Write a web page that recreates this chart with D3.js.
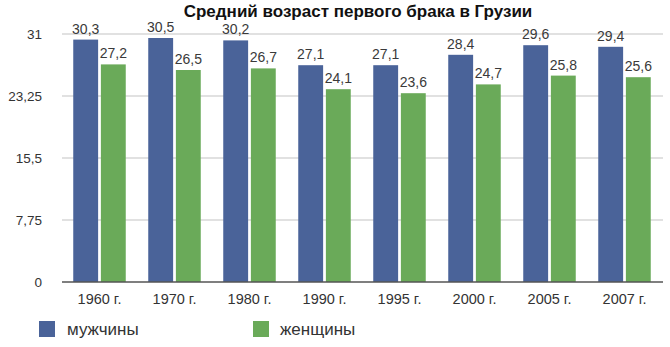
<!DOCTYPE html>
<html><head><meta charset="utf-8">
<script src="https://cdn.jsdelivr.net/npm/d3@7"></script>
<style>body{margin:0;background:#fff}svg{display:block}text{font-family:"Liberation Sans",Arial,sans-serif}</style>
</head><body>
<svg id="c" width="670" height="347"></svg>
<script>
const title = "Средний возраст первого брака в Грузии";
const categories = ["1960 г.","1970 г.","1980 г.","1990 г.","1995 г.","2000 г.","2005 г.","2007 г."];
const seriesNames = ["мужчины","женщины"];
const men = [30.3,30.5,30.2,27.1,27.1,28.4,29.6,29.4];
const women = [27.2,26.5,26.7,24.1,23.6,24.7,25.8,25.6];
const yTicks = [0,7.75,15.5,23.25,31];
const colors = ["#4a6399","#6aaa59"];

const svg = d3.select("#c");
const fmt = v => String(v).replace(".", ",");
const x = d3.scaleBand().domain(categories).range([62,662]).paddingInner(0.3).paddingOuter(0.15);
const xs = d3.scaleBand().domain(seriesNames).range([0, x.bandwidth()]).paddingInner(0.1);
const y = d3.scaleLinear().domain([0,31]).range([282,34]);

// gridlines
svg.append("g").selectAll("line").data(yTicks.filter(t=>t>0)).join("line")
  .attr("x1",62).attr("x2",663).attr("y1",d=>y(d)).attr("y2",d=>y(d))
  .attr("stroke","#c4c4c4").attr("stroke-width",1.2);

// y axis labels
const yAxis = d3.axisLeft(y).tickValues(yTicks).tickSize(0).tickPadding(0).tickFormat(fmt);
const ya = svg.append("g").attr("transform","translate(42,0)").call(yAxis);
ya.select(".domain").remove();
ya.selectAll("text").attr("font-size","13.5px").attr("fill","#333").attr("dy","0.35em");

const data = categories.map((c,i)=>({c, vals:[men[i],women[i]]}));
const g = svg.append("g").selectAll("g").data(data).join("g").attr("transform",d=>`translate(${x(d.c)},0)`);
g.selectAll("rect").data(d=>d.vals.map((v,k)=>({v,k}))).join("rect")
  .attr("x",d=>xs(seriesNames[d.k])).attr("width",xs.bandwidth())
  .attr("y",d=>y(d.v)).attr("height",d=>y(0)-y(d.v)).attr("fill",d=>colors[d.k]);
g.selectAll("text.v").data(d=>d.vals.map((v,k)=>({v,k}))).join("text").attr("class","v")
  .attr("x",d=>xs(seriesNames[d.k])+xs.bandwidth()/2).attr("y",d=>y(d.v)-6)
  .attr("text-anchor","middle").attr("font-size","14px").attr("fill","#3a3a3a").text(d=>fmt(d.v));

// baseline
svg.append("line").attr("x1",62).attr("x2",663).attr("y1",y(0)).attr("y2",y(0)).attr("stroke","#555").attr("stroke-width",1.5);

// x axis labels
const xAxis = d3.axisBottom(x).tickSize(0).tickPadding(0);
const xa = svg.append("g").attr("transform","translate(0,294)").call(xAxis);
xa.select(".domain").remove();
xa.selectAll("text").attr("font-size","14.5px").attr("fill","#333").attr("dy","0.71em");

// title
svg.append("text").attr("x",358).attr("y",17).attr("text-anchor","middle")
  .attr("font-size","17px").attr("font-weight","bold").attr("fill","#111").text(title);

// legend
const legX = [39,253];
const lg = svg.append("g").selectAll("g").data(seriesNames).join("g").attr("transform",(d,i)=>`translate(${legX[i]},321)`);
lg.append("rect").attr("width",16).attr("height",16).attr("fill",(d,i)=>colors[i]);
lg.append("text").attr("x",(d,i)=>i===0?28:27).attr("y",14).attr("font-size","17px").attr("fill","#333").text(d=>d);
</script>
</body></html>
